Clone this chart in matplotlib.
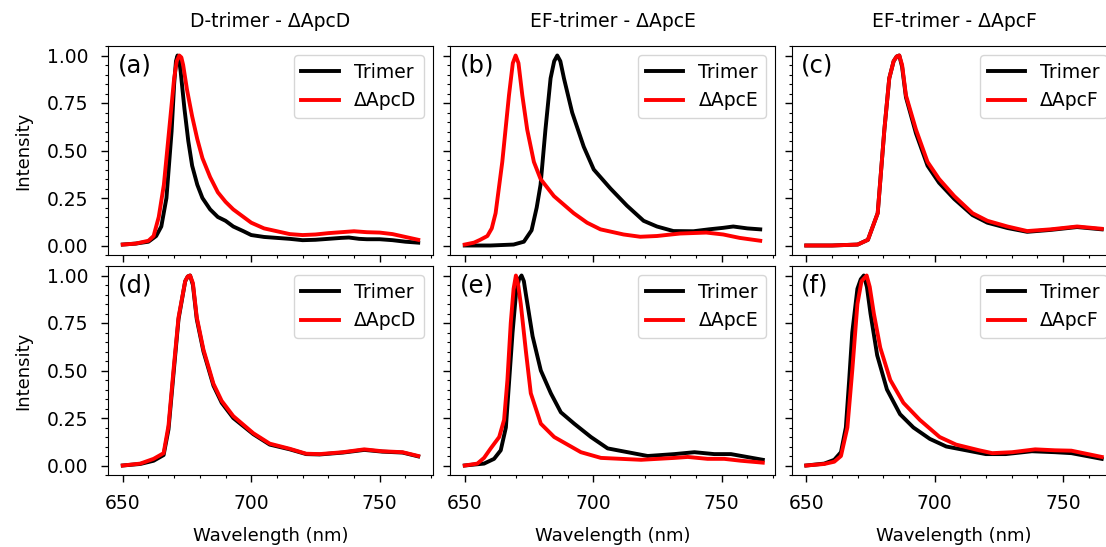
import matplotlib
matplotlib.use("Agg")
import matplotlib.pyplot as plt
from matplotlib.ticker import MultipleLocator

# ---------------- data ----------------
col_titles = ["D-trimer - ΔApcD", "EF-trimer - ΔApcE", "EF-trimer - ΔApcF"]
mutant_names = ["ΔApcD", "ΔApcE", "ΔApcF"]
panel_labels = ["(a)", "(b)", "(c)", "(d)", "(e)", "(f)"]

# (a) D-trimer Trimer
a_trim_x = [650, 655, 660, 663, 665, 667, 669, 670, 670.7, 671.3, 671.9, 672.5, 674, 675.5, 677, 679, 681,
            684, 687, 690, 693, 697, 700, 705, 710, 715, 720, 725, 730, 735, 738, 742, 745, 750, 755, 760, 765]
a_trim_y = [0.005, 0.01, 0.02, 0.05, 0.10, 0.25, 0.60, 0.85, 0.97, 1.0, 0.98, 0.92, 0.72, 0.55, 0.42, 0.32,
            0.25, 0.19, 0.15, 0.13, 0.10, 0.075, 0.055, 0.045, 0.04, 0.035, 0.028, 0.03, 0.035, 0.04,
            0.042, 0.035, 0.033, 0.033, 0.028, 0.02, 0.015]
# (a) ΔApcD
a_mut_x = [650, 655, 660, 662, 664, 666, 668, 670, 671, 672, 672.8, 673.5, 675, 677, 679, 681, 684, 687, 690,
           693, 696, 700, 705, 710, 715, 720, 725, 730, 735, 740, 745, 750, 755, 760, 765]
a_mut_y = [0.005, 0.01, 0.025, 0.05, 0.15, 0.32, 0.60, 0.88, 0.97, 1.0, 0.99, 0.95, 0.82, 0.68, 0.56, 0.46,
           0.36, 0.28, 0.23, 0.19, 0.16, 0.12, 0.09, 0.075, 0.06, 0.055, 0.058, 0.065, 0.07, 0.075, 0.07,
           0.068, 0.06, 0.045, 0.03]

# (b) EF-trimer Trimer
b_trim_x = [650, 660, 669, 673, 676, 678, 679.5, 681.4, 683.4, 684.8, 686, 687.2, 688.6, 691.8, 696.3,
            700.2, 706.7, 713.1, 719.6, 724.8, 731.2, 739, 745, 750.6, 754.5, 760, 765]
b_trim_y = [0.0, 0.0, 0.005, 0.02, 0.08, 0.2, 0.32, 0.61, 0.88, 0.97, 1.0, 0.97, 0.88, 0.70, 0.52, 0.40,
            0.30, 0.21, 0.13, 0.10, 0.076, 0.075, 0.085, 0.093, 0.10, 0.09, 0.085]
# (b) ΔApcE
b_mut_x = [650, 653.6, 656, 658.8, 660.5, 662, 664.6, 667.2, 668.7, 669.8, 670.9, 672.4, 674.3, 676.9,
           679.5, 684.7, 692.4, 697.6, 702.8, 711.8, 718.3, 724.8, 733.8, 744, 750.6, 757, 765]
b_mut_y = [0.005, 0.015, 0.03, 0.05, 0.09, 0.17, 0.44, 0.79, 0.96, 1.0, 0.96, 0.79, 0.61, 0.44, 0.35,
           0.26, 0.17, 0.12, 0.085, 0.058, 0.046, 0.05, 0.063, 0.068, 0.058, 0.04, 0.025]

# (c) EF-trimer Trimer
c_trim_x = [650, 660, 670, 674, 677.8, 680.4, 682.3, 684, 685.2, 686.2, 687.3, 688.8, 692.7, 697.2, 701.7,
            707.6, 714.7, 720.5, 728.3, 736, 745.1, 755.4, 765]
c_trim_y = [0.0, 0.0, 0.005, 0.03, 0.17, 0.61, 0.88, 0.97, 0.995, 1.0, 0.94, 0.78, 0.59, 0.42, 0.33,
            0.245, 0.16, 0.12, 0.092, 0.072, 0.082, 0.097, 0.085]
# (c) ΔApcF
c_mut_x = [650, 660, 670, 674, 677.8, 680.4, 682.3, 684, 685.2, 686.2, 687.3, 688.8, 692.7, 697.2, 701.7,
           707.6, 714.7, 720.5, 728.3, 736, 745.1, 755.4, 765]
c_mut_y = [0.0, 0.0, 0.005, 0.03, 0.17, 0.61, 0.88, 0.97, 0.995, 1.0, 0.95, 0.79, 0.61, 0.44, 0.35,
           0.26, 0.17, 0.13, 0.10, 0.076, 0.085, 0.10, 0.088]

# (d) D-trimer Trimer
d_trim_x = [650, 656.8, 662, 665.9, 667.8, 669.8, 671.7, 674.3, 675.3, 676.2, 677.3, 678.8, 681.4, 685.3,
            688.5, 693, 700.8, 707.2, 715, 721.4, 726.6, 735.7, 744, 751, 758.9, 765]
d_trim_y = [0.0, 0.008, 0.025, 0.055, 0.19, 0.49, 0.77, 0.97, 0.995, 1.0, 0.95, 0.77, 0.60, 0.42, 0.33,
            0.25, 0.165, 0.11, 0.085, 0.06, 0.058, 0.068, 0.082, 0.073, 0.068, 0.048]
# (d) ΔApcD
d_mut_x = [650, 656.8, 662, 665.9, 667.8, 669.8, 671.7, 674.3, 675.3, 676.2, 677.3, 678.8, 681.4, 685.3,
           688.5, 693, 700.8, 707.2, 715, 721.4, 726.6, 735.7, 744, 751, 758.9, 765]
d_mut_y = [0.0, 0.01, 0.035, 0.065, 0.21, 0.51, 0.78, 0.97, 0.995, 1.0, 0.96, 0.78, 0.61, 0.43, 0.34,
           0.26, 0.17, 0.115, 0.088, 0.062, 0.06, 0.07, 0.085, 0.075, 0.07, 0.05]

# (e) EF-trimer Trimer
e_trim_x = [650, 657.5, 661.4, 664, 666, 667.3, 668.6, 669.9, 671.1, 672.1, 673, 673.8, 676.4, 679.6,
            683.5, 687.4, 692.6, 699.1, 705.6, 713.4, 721.2, 731.6, 739.4, 747.1, 753.6, 766]
e_trim_y = [0.0, 0.01, 0.035, 0.08, 0.2, 0.45, 0.7, 0.9, 0.98, 1.0, 0.97, 0.9, 0.68, 0.5, 0.38, 0.28,
            0.22, 0.15, 0.09, 0.07, 0.05, 0.06, 0.07, 0.06, 0.06, 0.03]
# (e) ΔApcE
e_mut_x = [650, 654.9, 657.5, 660.1, 663.4, 665.3, 666.6, 667.9, 669, 669.9, 670.8, 671.8, 673.8, 675.7,
           679.6, 684.8, 690, 695.2, 703, 718.6, 731.6, 736.8, 744.5, 751, 757.5, 766]
e_mut_y = [0.0, 0.01, 0.04, 0.09, 0.15, 0.24, 0.45, 0.75, 0.93, 1.0, 0.95, 0.85, 0.6, 0.38, 0.22, 0.15,
           0.11, 0.07, 0.04, 0.03, 0.04, 0.045, 0.035, 0.035, 0.025, 0.015]

# (f) EF-trimer Trimer
f_trim_x = [650, 657, 660.9, 663.5, 665.4, 666.7, 667.9, 669.9, 671.2, 672.4, 673.6, 675, 677.6, 681.4,
            686.5, 691.7, 698.1, 704.5, 712.2, 719.9, 727.6, 737.8, 746.8, 753.2, 765]
f_trim_y = [0.0, 0.01, 0.03, 0.07, 0.2, 0.45, 0.7, 0.93, 0.98, 1.0, 0.94, 0.8, 0.58, 0.4, 0.27, 0.2,
            0.14, 0.1, 0.08, 0.06, 0.06, 0.075, 0.07, 0.065, 0.035]
# (f) ΔApcF
f_mut_x = [650, 657, 660.9, 663.5, 666, 667.9, 669.9, 671.5, 673.5, 674.7, 676.3, 678.8, 682.7, 687.8,
           694.2, 701.9, 708.3, 717.3, 722.4, 730.1, 739.1, 746.8, 753.2, 765]
f_mut_y = [0.0, 0.008, 0.02, 0.05, 0.2, 0.5, 0.85, 0.97, 1.0, 0.94, 0.8, 0.62, 0.45, 0.33, 0.24, 0.15,
           0.11, 0.08, 0.065, 0.07, 0.085, 0.08, 0.078, 0.045]

trimer_x = [a_trim_x, b_trim_x, c_trim_x, d_trim_x, e_trim_x, f_trim_x]
trimer_y = [a_trim_y, b_trim_y, c_trim_y, d_trim_y, e_trim_y, f_trim_y]
mutant_x = [a_mut_x, b_mut_x, c_mut_x, d_mut_x, e_mut_x, f_mut_x]
mutant_y = [a_mut_y, b_mut_y, c_mut_y, d_mut_y, e_mut_y, f_mut_y]

x_ticks = [650, 700, 750]
y_ticks = [0.0, 0.25, 0.5, 0.75, 1.0]

# ---------------- figure ----------------
W, H = 1106, 547
fig = plt.figure(figsize=(W / 100, H / 100), dpi=100)
FS = 13.5

col_left = [108, 450, 791.5]
col_w = 325
row_top = [46, 266]
row_h = 209

axes = []
for r in range(2):
    for c in range(3):
        l = col_left[c] / W
        b = (H - row_top[r] - row_h) / H
        ax = fig.add_axes([l, b, col_w / W, row_h / H])
        axes.append(ax)

for i, ax in enumerate(axes):
    r, c = divmod(i, 3)
    ax.plot(trimer_x[i], trimer_y[i], color="black", lw=2.8, label="Trimer")
    ax.plot(mutant_x[i], mutant_y[i], color="red", lw=2.8, label=mutant_names[c])
    ax.set_xlim(644.25, 770.75)
    ax.set_ylim(-0.05, 1.05)
    ax.set_xticks(x_ticks)
    ax.set_yticks(y_ticks)
    ax.xaxis.set_minor_locator(MultipleLocator(10))
    ax.yaxis.set_minor_locator(MultipleLocator(0.05))
    ax.tick_params(which="major", length=5, width=1, labelsize=FS, pad=9)
    ax.tick_params(which="minor", length=2.5, width=0.8)
    if c == 0:
        ax.set_yticklabels(["0.00", "0.25", "0.50", "0.75", "1.00"])
        ax.set_ylabel("Intensity", fontsize=13, labelpad=11)
    else:
        ax.set_yticklabels([])
    if r == 0:
        ax.set_xticklabels([])
        ax.set_title(col_titles[c], fontsize=13.5, pad=14)
    else:
        ax.set_xlabel("Wavelength (nm)", fontsize=13, labelpad=10)
    ax.text(0.03, 0.965, panel_labels[i], transform=ax.transAxes, ha="left", va="top", fontsize=17.5)
    ax.legend(loc="upper right", fontsize=FS)

fig.savefig("out.png", dpi=100)
